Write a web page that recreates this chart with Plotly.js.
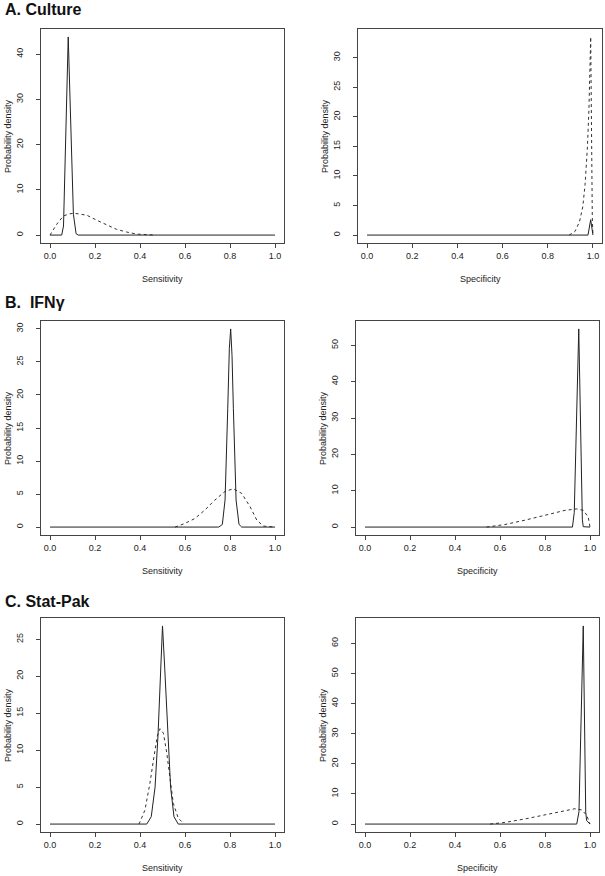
<!DOCTYPE html>
<html>
<head>
<meta charset="utf-8">
<script src="https://cdn.plot.ly/plotly-3.0.1.min.js"></script>
<style>
  html, body { margin: 0; padding: 0; background: #fff; }
  #chart { width: 605px; height: 876px; }
</style>
</head>
<body>
<div id="chart"></div>
<script>
// tick labels shared by all panels
const xTickVals = [0, 0.2, 0.4, 0.6, 0.8, 1.0];
const xTickText = ['0.0', '0.2', '0.4', '0.6', '0.8', '1.0'];

// A. Culture - sensitivity
const cultSensSolidX = [0, 0.052, 0.06, 0.081, 0.104, 0.116, 0.125, 1.0];
const cultSensSolidY = [0, 0, 2, 43.8, 4.6, 0.3, 0, 0];
const cultSensDashX = [0, 0.03, 0.059, 0.085, 0.111, 0.163, 0.207, 0.252, 0.296, 0.341, 0.385, 0.46];
const cultSensDashY = [0, 2.4, 4.2, 4.7, 4.8, 4.4, 3.3, 2.2, 1.26, 0.67, 0.22, 0];
const cultSensTicks = [0, 10, 20, 30, 40];

// A. Culture - specificity
const cultSpecSolidX = [0, 0.978, 0.99, 0.995, 1.0];
const cultSpecSolidY = [0, 0, 2.6, 1.2, 0];
const cultSpecDashX = [0.895, 0.92, 0.94, 0.955, 0.965, 0.975, 0.982, 0.987, 0.99, 0.997, 1.0];
const cultSpecDashY = [0, 0.6, 2.2, 4.8, 8.5, 14.5, 21, 28, 33.5, 3, 0];
const cultSpecTicks = [0, 5, 10, 15, 20, 25, 30];

// B. IFNγ - sensitivity
const ifnSensSolidX = [0, 0.75, 0.766, 0.778, 0.79, 0.797, 0.803, 0.809, 0.815, 0.827, 0.84, 0.852, 1.0];
const ifnSensSolidY = [0, 0, 0.4, 4.1, 18, 27, 30, 26, 18, 4.1, 0.4, 0, 0];
const ifnSensDashX = [0.556, 0.6, 0.644, 0.689, 0.733, 0.778, 0.815, 0.852, 0.889, 0.919, 0.948, 1.0];
const ifnSensDashY = [0, 0.56, 1.3, 2.6, 4.1, 5.4, 5.8, 5.1, 3.1, 1.06, 0.15, 0];
const ifnSensTicks = [0, 5, 10, 15, 20, 25, 30];

// B. IFNγ - specificity
const ifnSpecSolidX = [0, 0.922, 0.93, 0.95, 0.966, 0.97, 1.0];
const ifnSpecSolidY = [0, 0, 4, 54.5, 2, 0.1, 0];
const ifnSpecDashX = [0.54, 0.622, 0.711, 0.8, 0.889, 0.941, 0.97, 0.992, 1.0];
const ifnSpecDashY = [0, 0.7, 1.9, 3.3, 4.6, 5.0, 4.6, 2.8, 0];
const ifnSpecTicks = [0, 10, 20, 30, 40, 50];

// C. Stat-Pak - sensitivity
const statSensSolidX = [0, 0.43, 0.45, 0.467, 0.48, 0.49, 0.5, 0.51, 0.523, 0.536, 0.551, 0.57, 1.0];
const statSensSolidY = [0, 0, 1, 5, 12, 20, 26.8, 21, 12, 5, 1, 0, 0];
const statSensDashX = [0.395, 0.4, 0.422, 0.444, 0.462, 0.477, 0.489, 0.504, 0.519, 0.533, 0.548, 0.57, 0.593];
const statSensDashY = [0, 0.3, 1.9, 5.5, 9.1, 11.9, 12.9, 12.3, 9.6, 6, 2.8, 0.8, 0.1];
const statSensTicks = [0, 5, 10, 15, 20, 25];

// C. Stat-Pak - specificity
const statSpecSolidX = [0, 0.941, 0.951, 0.97, 0.981, 0.985, 1.0];
const statSpecSolidY = [0, 0, 4.1, 65.8, 4, 1.2, 0];
const statSpecDashX = [0.556, 0.622, 0.711, 0.8, 0.889, 0.933, 0.963, 0.985, 1.0];
const statSpecDashY = [0, 0.55, 1.7, 3.0, 4.5, 5.1, 4.7, 3.0, 0];
const statSpecTicks = [0, 10, 20, 30, 40, 50, 60];

const W = 605, H = 876;
const FONT = 'Liberation Sans, Arial, Helvetica, sans-serif';
const INK = '#222';

// box of each panel in page pixels: [left, right, top, bottom]
const panels = [
  { box: [41, 284, 29, 243], xt: 'Sensitivity', sx: cultSensSolidX, sy: cultSensSolidY, dx: cultSensDashX, dy: cultSensDashY, ticks: cultSensTicks },
  { box: [358, 602, 29, 243], xt: 'Specificity', sx: cultSpecSolidX, sy: cultSpecSolidY, dx: cultSpecDashX, dy: cultSpecDashY, ticks: cultSpecTicks },
  { box: [41, 284, 321, 535], xt: 'Sensitivity', sx: ifnSensSolidX, sy: ifnSensSolidY, dx: ifnSensDashX, dy: ifnSensDashY, ticks: ifnSensTicks },
  { box: [356, 599, 321, 535], xt: 'Specificity', sx: ifnSpecSolidX, sy: ifnSpecSolidY, dx: ifnSpecDashX, dy: ifnSpecDashY, ticks: ifnSpecTicks },
  { box: [41, 284, 618, 832], xt: 'Sensitivity', sx: statSensSolidX, sy: statSensSolidY, dx: statSensDashX, dy: statSensDashY, ticks: statSensTicks },
  { box: [356, 599, 618, 832], xt: 'Specificity', sx: statSpecSolidX, sy: statSpecSolidY, dx: statSpecDashX, dy: statSpecDashY, ticks: statSpecTicks }
];

const data = [];
const layout = {
  width: W, height: H,
  margin: { l: 0, r: 0, t: 0, b: 0 },
  paper_bgcolor: '#fff', plot_bgcolor: '#fff',
  showlegend: false,
  font: { family: FONT, size: 9, color: INK },
  annotations: []
};

panels.forEach((p, i) => {
  const n = i + 1;
  const xa = n === 1 ? 'x' : 'x' + n;
  const ya = n === 1 ? 'y' : 'y' + n;
  const [l, r, t, b] = p.box;

  data.push({ x: p.dx, y: p.dy, xaxis: xa, yaxis: ya, type: 'scatter', mode: 'lines',
    line: { color: '#333', width: 1, dash: '3px,3px' }, hoverinfo: 'skip' });
  data.push({ x: p.sx, y: p.sy, xaxis: xa, yaxis: ya, type: 'scatter', mode: 'lines',
    line: { color: '#222', width: 1 }, hoverinfo: 'skip' });

  const top = Math.max(...p.sy, ...p.dy);
  const axisCommon = {
    showline: true, mirror: true, linecolor: '#444', linewidth: 1,
    ticks: 'outside', ticklen: 4, tickcolor: '#444', tickwidth: 1,
    showgrid: false, zeroline: false, fixedrange: true,
    tickfont: { family: FONT, size: 9, color: INK }
  };
  layout['xaxis' + (n === 1 ? '' : n)] = Object.assign({}, axisCommon, {
    domain: [l / W, r / W], anchor: ya,
    range: [-0.04, 1.04], tickvals: xTickVals, ticktext: xTickText
  });
  layout['yaxis' + (n === 1 ? '' : n)] = Object.assign({}, axisCommon, {
    domain: [1 - b / H, 1 - t / H], anchor: xa,
    range: [-0.04 * top, 1.04 * top], tickvals: p.ticks, tickangle: -90,
    ticklabelstandoff: 9
  });

  // axis titles
  layout.annotations.push({ text: p.xt, xref: 'paper', yref: 'paper',
    x: (l + r) / 2 / W, y: 1 - (b + 36) / H, showarrow: false,
    xanchor: 'center', yanchor: 'middle', font: { family: FONT, size: 9, color: INK } });
  layout.annotations.push({ text: 'Probability density', xref: 'paper', yref: 'paper',
    x: (l - 33) / W, y: 1 - (t + b) / 2 / H, showarrow: false, textangle: -90,
    xanchor: 'center', yanchor: 'middle', font: { family: FONT, size: 9, color: INK } });
});

// panel headings
const headings = ['A. Culture', 'B.&nbsp; IFNγ', 'C. Stat-Pak'];
const headingY = [10, 302, 601];
headings.forEach((h, i) => {
  layout.annotations.push({ text: '<b>' + h + '</b>', xref: 'paper', yref: 'paper',
    x: 3 / W, y: 1 - headingY[i] / H, showarrow: false,
    xanchor: 'left', yanchor: 'middle', font: { family: FONT, size: 16, color: '#111' } });
});

Plotly.newPlot('chart', data, layout, { staticPlot: true, displayModeBar: false });
</script>
</body>
</html>
